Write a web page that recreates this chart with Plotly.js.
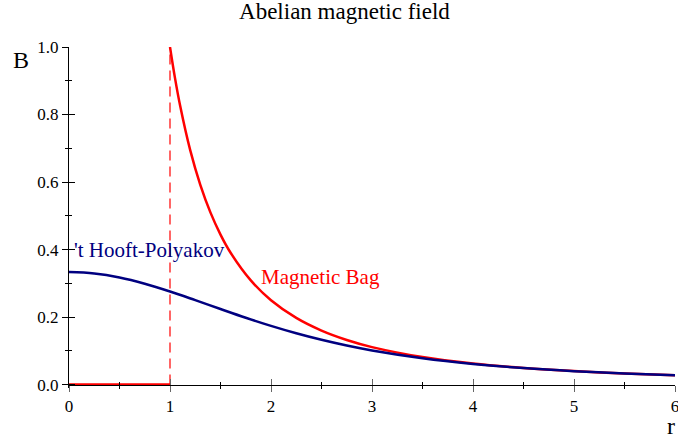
<!DOCTYPE html>
<html>
<head>
<meta charset="utf-8">
<script src="https://cdn.plot.ly/plotly-3.0.1.min.js"></script>
<style>html,body{margin:0;padding:0;background:#fff;}#chart{width:678px;height:434px;}</style>
</head>
<body>
<div id="chart"></div>
<script>
// 't Hooft-Polyakov curve
var hpR = [0, 0.25, 0.5, 0.75, 1, 1.25, 1.5, 1.75, 2, 2.25, 2.5, 2.75, 3, 3.5, 4, 4.5, 5, 5.5, 6];
var hpB = [0.3333, 0.3291, 0.3173, 0.2989, 0.2759, 0.2503, 0.2239, 0.1981, 0.1740, 0.1521, 0.1327, 0.1157, 0.1011, 0.0780, 0.0612, 0.0489, 0.0398, 0.0330, 0.0278];
// Magnetic Bag curve, outside the bag
var bagR = [1, 1.05, 1.1, 1.2, 1.3, 1.4, 1.5, 1.6, 1.8, 2, 2.25, 2.5, 2.75, 3, 3.5, 4, 4.5, 5, 5.5, 6];
var bagB = [1.0, 0.9070, 0.8264, 0.6944, 0.5917, 0.5102, 0.4444, 0.3906, 0.3086, 0.25, 0.1975, 0.16, 0.1322, 0.1111, 0.0816, 0.0625, 0.0494, 0.04, 0.0331, 0.0278];
// inside the bag
var insideR = [0, 1];
var insideB = [0, 0];
// bag boundary
var wallR = [1, 1];
var wallB = [0, 1];

var xTicks = [0, 1, 2, 3, 4, 5, 6];
var yTicks = [0, 0.2, 0.4, 0.6, 0.8, 1.0];

var serif = 'Liberation Serif';

var traces = [
  {x: insideR, y: insideB, mode: 'lines', line: {color: '#ff0000', width: 2.5}, hoverinfo: 'none'},
  {x: bagR, y: bagB, mode: 'lines', line: {color: '#ff0000', width: 2.5, shape: 'spline'}, hoverinfo: 'none'},
  {x: hpR, y: hpB, mode: 'lines', line: {color: '#000080', width: 2.5, shape: 'spline'}, hoverinfo: 'none'},
  {x: wallR, y: wallB, xaxis: 'x2', yaxis: 'y2', mode: 'lines', line: {color: '#ff0000', width: 1.2, dash: '10px,6px'}, hoverinfo: 'none'}
];

var yr = [-0.01, 1.0];
var xr = [0, 6];
var pos = 0.01 / 1.01;

var axX = {
  range: xr, anchor: 'free', position: pos,
  showline: true, linecolor: '#000', linewidth: 1,
  showgrid: false, zeroline: false,
  tickmode: 'array', tickvals: xTicks, ticktext: xTicks.map(String),
  ticks: 'outside', ticklen: 6, tickwidth: 1, tickcolor: '#666',
  ticklabeloverflow: 'allow',
  tickfont: {family: serif, size: 17, color: '#000'},
  minor: {tickmode: 'linear', tick0: 0, dtick: 0.5, ticks: 'outside', ticklen: 3, tickcolor: '#000', tickwidth: 1, showgrid: false}
};
var axY = {
  range: yr,
  showline: true, linecolor: '#000', linewidth: 1,
  showgrid: false, zeroline: false,
  tickmode: 'array', tickvals: yTicks, ticktext: yTicks.map(function(v){return v.toFixed(1);}),
  ticks: 'outside', ticklen: 6, tickwidth: 1, tickcolor: '#000',
  ticklabeloverflow: 'allow',
  tickfont: {family: serif, size: 17, color: '#000'},
  minor: {tickmode: 'linear', tick0: 0, dtick: 0.1, ticks: 'outside', ticklen: 3, tickcolor: '#000', tickwidth: 1, showgrid: false}
};

var layout = {
  width: 678, height: 434,
  margin: {l: 69, r: 3, t: 47, b: 46, pad: 0},
  paper_bgcolor: '#fff', plot_bgcolor: '#fff',
  showlegend: false,
  font: {family: serif},
  title: {text: 'Abelian magnetic field', font: {family: serif, size: 23, color: '#000'}, xref: 'container', x: 0.508, xanchor: 'center', yref: 'container', y: 0.975, yanchor: 'middle'},
  xaxis: axX,
  yaxis: axY,
  xaxis2: Object.assign({}, axX, {overlaying: 'x', ticks: 'inside', showticklabels: false, showline: false,
    minor: {tickmode: 'linear', tick0: 0, dtick: 0.5, ticks: 'inside', ticklen: 3, tickcolor: '#000', tickwidth: 1, showgrid: false}}),
  yaxis2: Object.assign({}, axY, {overlaying: 'y', ticks: 'inside', showticklabels: false, showline: false,
    minor: {tickmode: 'linear', tick0: 0, dtick: 0.1, ticks: 'inside', ticklen: 3, tickcolor: '#000', tickwidth: 1, showgrid: false}}),
  annotations: [
    {text: "'t Hooft-Polyakov", x: 0.03, y: 0.40, xref: 'x', yref: 'y', xanchor: 'left', yanchor: 'middle', showarrow: false, font: {family: serif, size: 21, color: '#000080'}},
    {text: 'Magnetic Bag', x: 1.88, y: 0.32, xref: 'x', yref: 'y', xanchor: 'left', yanchor: 'middle', showarrow: false, font: {family: serif, size: 21, color: '#ff0000'}},
    {text: 'B', x: -0.080, y: 0.962, xref: 'paper', yref: 'paper', xanchor: 'center', yanchor: 'middle', showarrow: false, font: {family: serif, size: 24, color: '#000'}},
    {text: 'r', x: 0.993, y: -0.112, xref: 'paper', yref: 'paper', xanchor: 'center', yanchor: 'middle', showarrow: false, font: {family: serif, size: 24, color: '#000'}}
  ]
};

Plotly.newPlot('chart', traces, layout, {staticPlot: true, displayModeBar: false});
</script>
</body>
</html>
